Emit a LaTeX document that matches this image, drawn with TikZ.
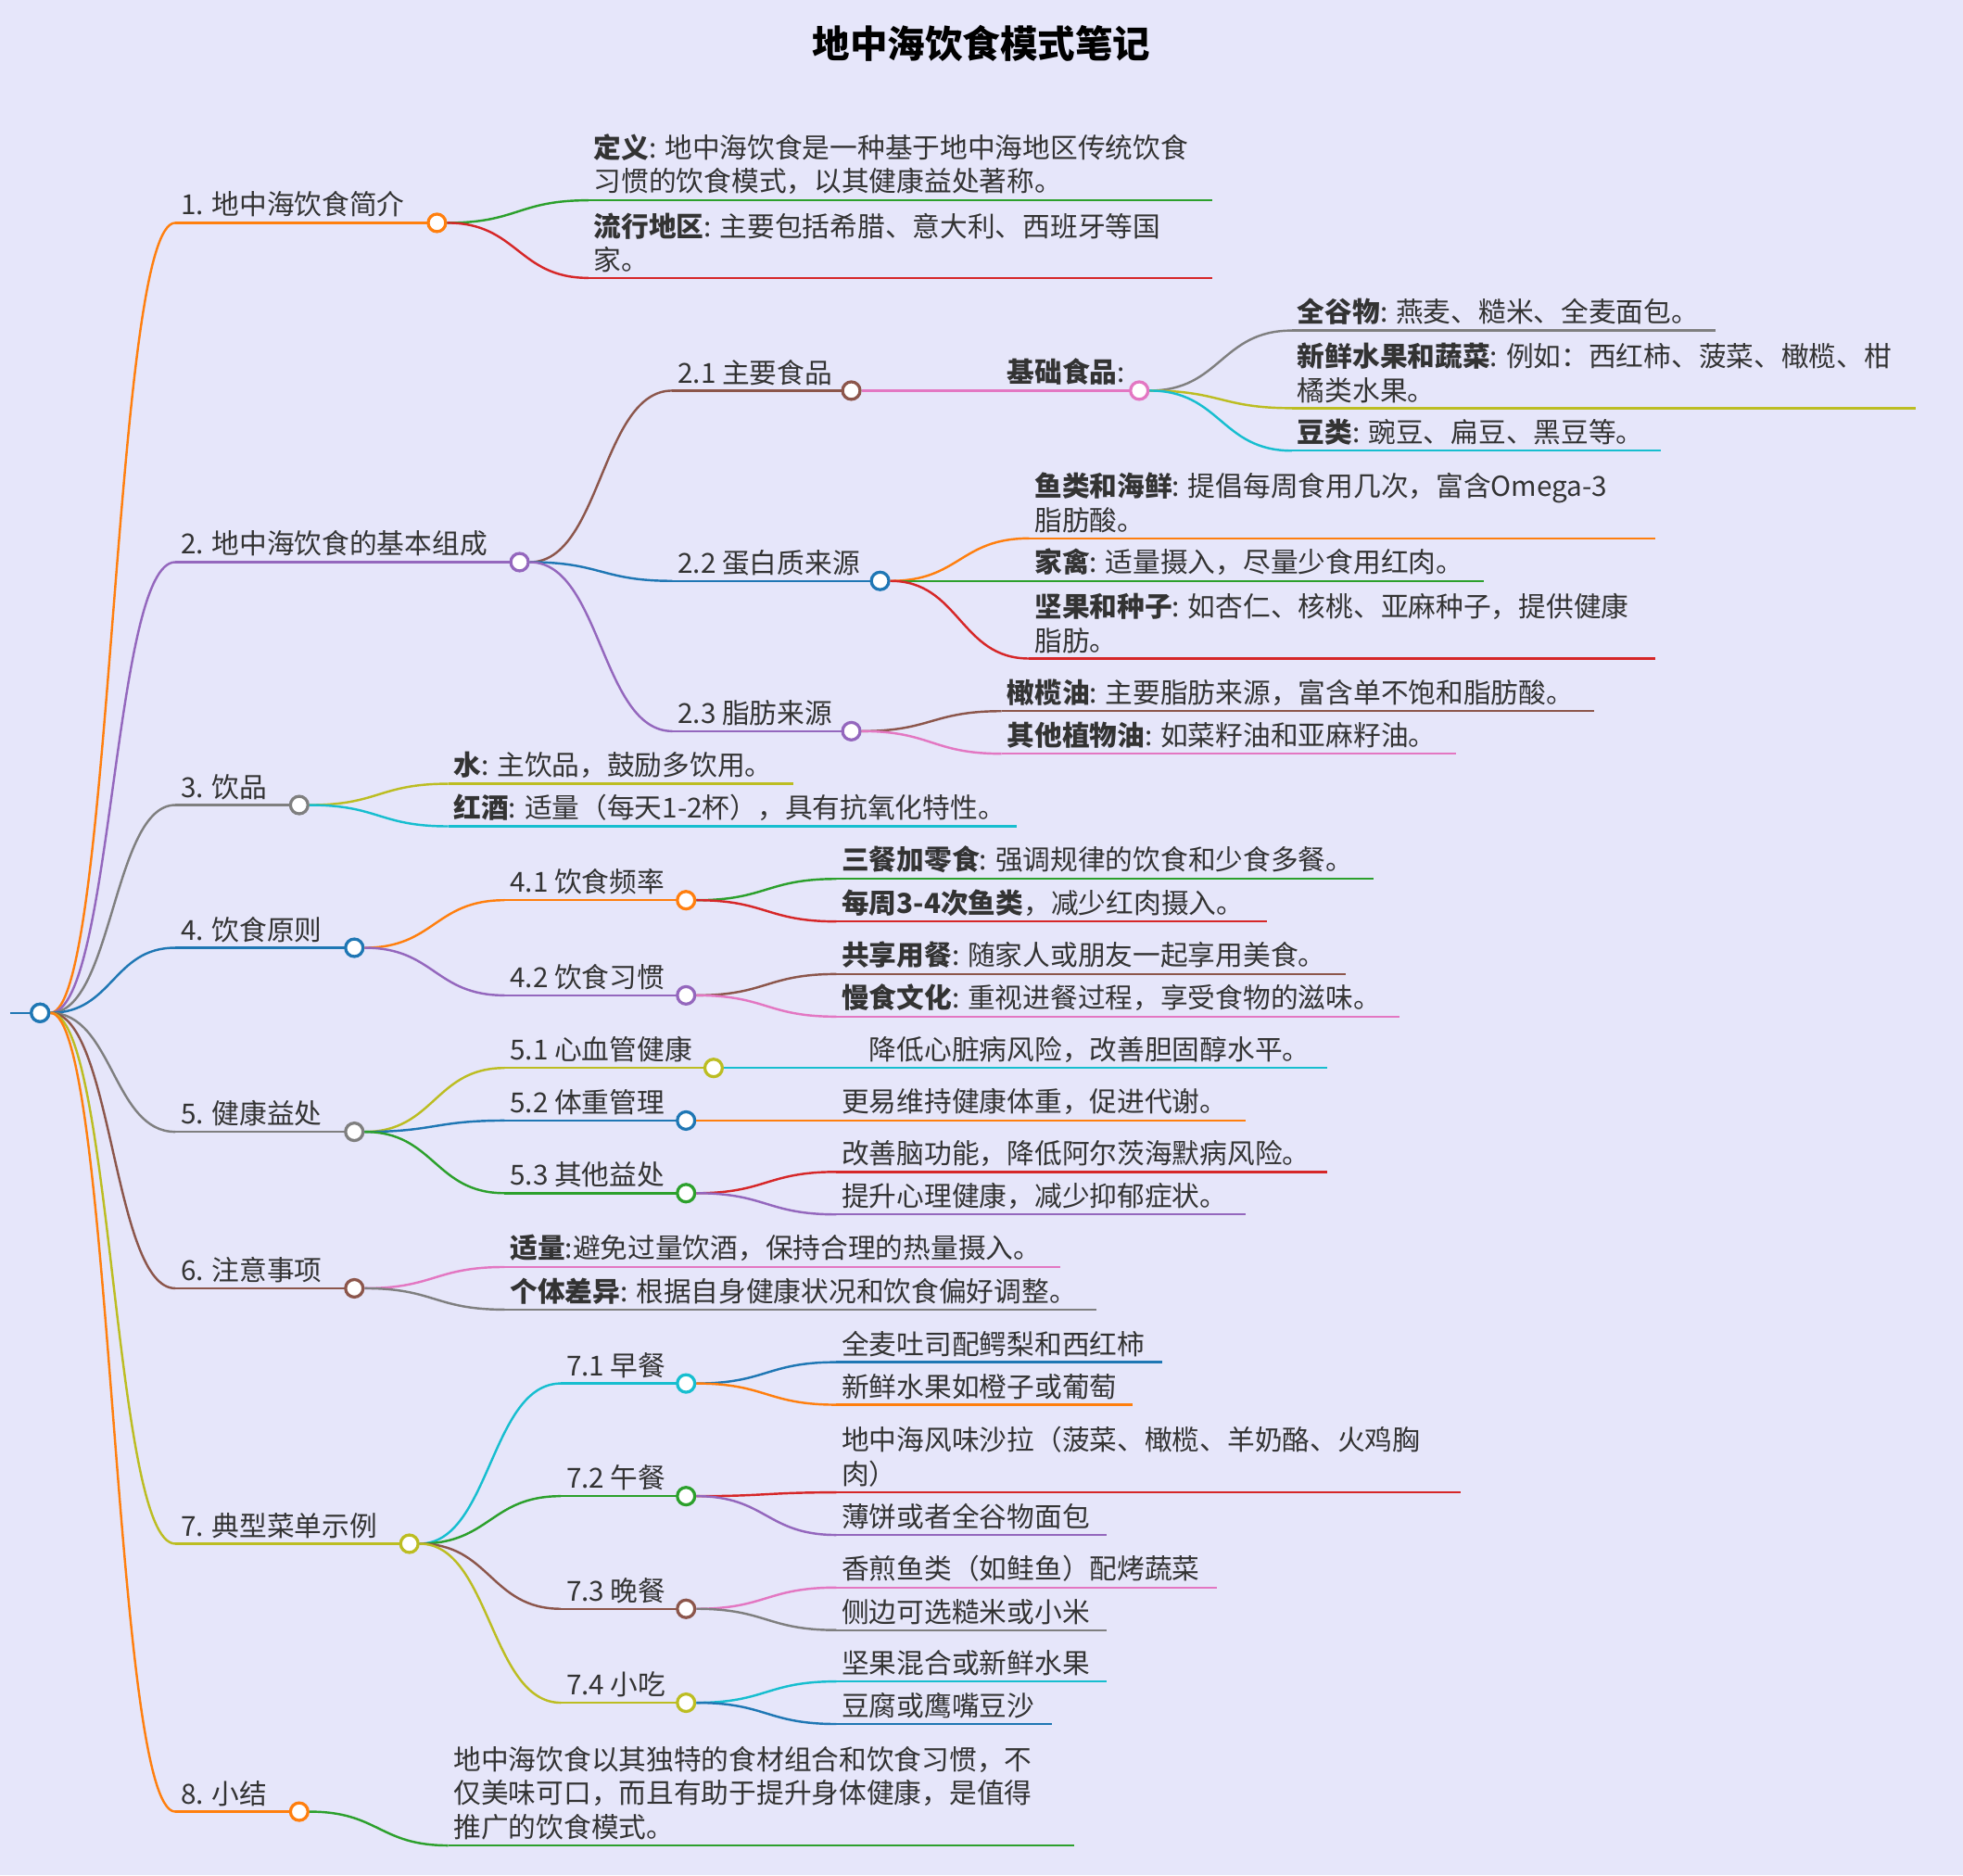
\documentclass[tikz,border=0pt]{standalone}
\usepackage{fontspec}
\setmainfont{Noto Sans CJK SC}
\usetikzlibrary{calc}
\definecolor{cO}{HTML}{FF7F0E}
\definecolor{cG}{HTML}{2CA02C}
\definecolor{cR}{HTML}{D62728}
\definecolor{cP}{HTML}{9467BD}
\definecolor{cB}{HTML}{8C564B}
\definecolor{cK}{HTML}{E377C2}
\definecolor{cY}{HTML}{7F7F7F}
\definecolor{cL}{HTML}{BCBD22}
\definecolor{cC}{HTML}{17BECF}
\definecolor{cU}{HTML}{1F77B4}
\definecolor{bg}{RGB}{230,230,250}
\definecolor{ink}{HTML}{333333}
\tikzset{
  txt/.style={text=ink,font=\fontsize{11}{13.5}\selectfont,align=left,anchor=south west,inner sep=2pt},
  dot/.style={circle,draw=#1,fill=white,line width=1.2pt,minimum size=7pt,inner sep=0pt},
  wire/.style={#1,line width=0.9pt}
}
\newcommand\leaf[6]{\draw[wire=#5] (#2,#4) coordinate (#1-s) -- (#3,#4) coordinate (#1-e);
  \node[txt] at (#2,#4) {#6};}
\newcommand\topic[6]{\leaf{#1}{#2}{#3}{#4}{#5}{#6}\node[dot=#5] (#1) at (#3,#4) {};}
\newcommand\link[3]{\draw[wire=#3] let \p1=(#1.east), \p2=(#2-s) in
  (\p1) .. controls (\x1/2+\x2/2,\y1) and (\x1/2+\x2/2,\y2) .. (\p2);}
\begin{document}
\begin{tikzpicture}[x=0.5pt,y=-0.5pt]
\fill[bg] (0,0) rectangle (1568,1498);
\useasboundingbox (0,0) rectangle (1568,1498);
\node[text=black,font=\fontsize{15}{18}\selectfont\bfseries] (title) at (784,35) {地中海饮食模式笔记};
\draw[wire=cU] (8,809) -- (32,809);
% level 1
\topic{t1}{140}{349}{178}{cO}{1. 地中海饮食简介}
\topic{t2}{140}{415}{449}{cP}{2. 地中海饮食的基本组成}
\topic{t3}{140}{239}{643}{cY}{3. 饮品}
\topic{t4}{140}{283}{757}{cU}{4. 饮食原则}
\topic{t5}{140}{283}{904}{cY}{5. 健康益处}
\topic{t6}{140}{283}{1029}{cB}{6. 注意事项}
\topic{t7}{140}{327}{1233}{cL}{7. 典型菜单示例}
\topic{t8}{140}{239}{1447}{cO}{8. 小结}
% section 1
\leaf{d1}{470}{968}{160}{cG}{\textbf{定义}: 地中海饮食是一种基于地中海地区传统饮食\\习惯的饮食模式，以其健康益处著称。}
\leaf{d2}{470}{968}{222}{cR}{\textbf{流行地区}: 主要包括希腊、意大利、西班牙等国\\家。}
% section 2
\topic{s21}{537}{680}{312}{cB}{2.1 主要食品}
\topic{s22}{537}{703}{464}{cU}{2.2 蛋白质来源}
\topic{s23}{537}{680}{584}{cP}{2.3 脂肪来源}
\topic{base}{800}{910}{312}{cK}{\textbf{基础食品}:}
\leaf{f1}{1032}{1370}{264}{cY}{\textbf{全谷物}: 燕麦、糙米、全麦面包。}
\leaf{f2}{1032}{1530}{326}{cL}{\textbf{新鲜水果和蔬菜}: 例如：西红柿、菠菜、橄榄、柑\\橘类水果。}
\leaf{f3}{1032}{1327}{360}{cC}{\textbf{豆类}: 豌豆、扁豆、黑豆等。}
\leaf{p1}{822}{1322}{430}{cO}{\textbf{鱼类和海鲜}: 提倡每周食用几次，富含Omega-3\\脂肪酸。}
\leaf{p2}{822}{1185}{464}{cG}{\textbf{家禽}: 适量摄入，尽量少食用红肉。}
\leaf{p3}{822}{1322}{526}{cR}{\textbf{坚果和种子}: 如杏仁、核桃、亚麻种子，提供健康\\脂肪。}
\leaf{o1}{800}{1273}{568}{cB}{\textbf{橄榄油}: 主要脂肪来源，富含单不饱和脂肪酸。}
\leaf{o2}{800}{1163}{602}{cK}{\textbf{其他植物油}: 如菜籽油和亚麻籽油。}
% section 3
\leaf{w1}{358}{634}{626}{cL}{\textbf{水}: 主饮品，鼓励多饮用。}
\leaf{w2}{358}{812}{660}{cC}{\textbf{红酒}: 适量（每天1-2杯），具有抗氧化特性。}
% section 4
\topic{s41}{403}{548}{719}{cO}{4.1 饮食频率}
\topic{s42}{403}{548}{795}{cP}{4.2 饮食习惯}
\leaf{r1}{668}{1097}{702}{cG}{\textbf{三餐加零食}: 强调规律的饮食和少食多餐。}
\leaf{r2}{668}{1012}{736}{cR}{\textbf{每周3-4次鱼类}，减少红肉摄入。}
\leaf{h1}{668}{1075}{778}{cB}{\textbf{共享用餐}: 随家人或朋友一起享用美食。}
\leaf{h2}{668}{1118}{812}{cK}{\textbf{慢食文化}: 重视进餐过程，享受食物的滋味。}
% section 5
\topic{s51}{403}{570}{853}{cL}{5.1 心血管健康}
\topic{s52}{403}{548}{895}{cU}{5.2 体重管理}
\topic{s53}{403}{548}{953}{cG}{5.3 其他益处}
\leaf{b1}{690}{1060}{853}{cC}{降低心脏病风险，改善胆固醇水平。}
\leaf{b2}{668}{995}{895}{cO}{更易维持健康体重，促进代谢。}
\leaf{b3}{668}{1060}{936}{cR}{改善脑功能，降低阿尔茨海默病风险。}
\leaf{b4}{668}{995}{970}{cP}{提升心理健康，减少抑郁症状。}
% section 6
\leaf{n1}{403}{847}{1012}{cK}{\textbf{适量}:避免过量饮酒，保持合理的热量摄入。}
\leaf{n2}{403}{876}{1046}{cY}{\textbf{个体差异}: 根据自身健康状况和饮食偏好调整。}
% section 7
\topic{s71}{448}{548}{1105}{cC}{7.1 早餐}
\topic{s72}{448}{548}{1195}{cG}{7.2 午餐}
\topic{s73}{448}{548}{1285}{cB}{7.3 晚餐}
\topic{s74}{448}{548}{1360}{cL}{7.4 小吃}
\leaf{m1}{668}{928}{1088}{cU}{全麦吐司配鳄梨和西红柿}
\leaf{m2}{668}{905}{1122}{cO}{新鲜水果如橙子或葡萄}
\leaf{m3}{668}{1167}{1192}{cR}{地中海风味沙拉（菠菜、橄榄、羊奶酪、火鸡胸\\肉）}
\leaf{m4}{668}{884}{1226}{cP}{薄饼或者全谷物面包}
\leaf{m5}{668}{972}{1268}{cK}{香煎鱼类（如鲑鱼）配烤蔬菜}
\leaf{m6}{668}{884}{1302}{cY}{侧边可选糙米或小米}
\leaf{m7}{668}{884}{1343}{cC}{坚果混合或新鲜水果}
\leaf{m8}{668}{840}{1377}{cU}{豆腐或鹰嘴豆沙}
% section 8
\leaf{c1}{358}{858}{1474}{cG}{地中海饮食以其独特的食材组合和饮食习惯，不\\仅美味可口，而且有助于提升身体健康，是值得\\推广的饮食模式。}
% connectors
\node[dot=cU] (root) at (32,809) {};
\foreach \t/\c in {t1/cO,t2/cP,t3/cY,t4/cU,t5/cY,t6/cB,t7/cL,t8/cO}{\link{root}{\t}{\c}}
\link{t1}{d1}{cG}\link{t1}{d2}{cR}
\link{t2}{s21}{cB}\link{t2}{s22}{cU}\link{t2}{s23}{cP}
\link{s21}{base}{cK}
\link{base}{f1}{cY}\link{base}{f2}{cL}\link{base}{f3}{cC}
\link{s22}{p1}{cO}\link{s22}{p2}{cG}\link{s22}{p3}{cR}
\link{s23}{o1}{cB}\link{s23}{o2}{cK}
\link{t3}{w1}{cL}\link{t3}{w2}{cC}
\link{t4}{s41}{cO}\link{t4}{s42}{cP}
\link{s41}{r1}{cG}\link{s41}{r2}{cR}\link{s42}{h1}{cB}\link{s42}{h2}{cK}
\link{t5}{s51}{cL}\link{t5}{s52}{cU}\link{t5}{s53}{cG}
\link{s51}{b1}{cC}\link{s52}{b2}{cO}\link{s53}{b3}{cR}\link{s53}{b4}{cP}
\link{t6}{n1}{cK}\link{t6}{n2}{cY}
\link{t7}{s71}{cC}\link{t7}{s72}{cG}\link{t7}{s73}{cB}\link{t7}{s74}{cL}
\link{s71}{m1}{cU}\link{s71}{m2}{cO}\link{s72}{m3}{cR}\link{s72}{m4}{cP}
\link{s73}{m5}{cK}\link{s73}{m6}{cY}\link{s74}{m7}{cC}\link{s74}{m8}{cU}
\link{t8}{c1}{cG}
\node[dot=cU] at (32,809) {};
\end{tikzpicture}
\end{document}
